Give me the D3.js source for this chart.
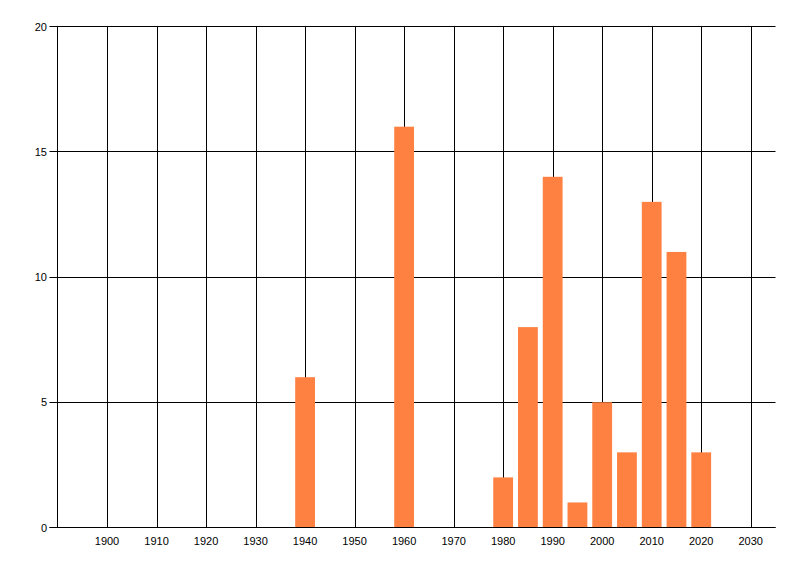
<!DOCTYPE html>
<html><head><meta charset="utf-8">
<script src="https://cdn.jsdelivr.net/npm/d3@7"></script>
<style>body{margin:0;background:#fff}svg{display:block}text{font-family:"Liberation Sans",Arial,sans-serif;font-size:11px;fill:#000}</style>
</head><body><svg id="c" width="800" height="576"></svg>
<script>
const years = [1940, 1960, 1980, 1985, 1990, 1995, 2000, 2005, 2010, 2015, 2020];
const counts = [6, 16, 2, 8, 14, 1, 5, 3, 13, 11, 3];
const xTicks = [1900, 1910, 1920, 1930, 1940, 1950, 1960, 1970, 1980, 1990, 2000, 2010, 2020, 2030];
const yTicks = [0, 5, 10, 15, 20];
const barYears = 4;

const svg = d3.select("#c");
const L = 57.5, R = 775.5, T = 26.5, B = 527.5;
const x = d3.scaleLinear().domain([1890, 2035]).range([L, R]);
const y = d3.scaleLinear().domain([0, 20]).range([B, T]);

// vertical gridlines
svg.append("g").selectAll("line").data(xTicks).join("line")
  .attr("x1", d => Math.round(x(d)) + 0.5).attr("x2", d => Math.round(x(d)) + 0.5)
  .attr("y1", T).attr("y2", B).attr("stroke", "#000");

// horizontal gridlines
svg.append("g").selectAll("line").data(yTicks).join("line")
  .attr("x1", L - 8).attr("x2", R).attr("y1", d => Math.floor(y(d)) + 0.5).attr("y2", d => Math.floor(y(d)) + 0.5)
  .attr("stroke", "#000");

// bars (drawn over gridlines)
svg.append("g").selectAll("rect").data(years).join("rect")
  .attr("x", (d) => x(d - barYears / 2))
  .attr("width", (d) => x(d + barYears / 2) - x(d - barYears / 2))
  .attr("y", (d, i) => y(counts[i]))
  .attr("height", (d, i) => Math.floor(y(0)) - y(counts[i]))
  .attr("fill", "#ff8142");

// axis lines
svg.append("line").attr("x1", L - 8).attr("x2", R).attr("y1", Math.floor(y(0)) + 0.5).attr("y2", Math.floor(y(0)) + 0.5).attr("stroke", "#000");
svg.append("line").attr("x1", L).attr("x2", L).attr("y1", T).attr("y2", B).attr("stroke", "#000");

// labels
svg.append("g").selectAll("text").data(xTicks).join("text")
  .attr("x", d => x(d)).attr("y", 545).attr("text-anchor", "middle").text(d => d);
svg.append("g").selectAll("text").data(yTicks).join("text")
  .attr("x", 47).attr("y", d => y(d) + 4).attr("text-anchor", "end").text(d => d);
</script></body></html>
